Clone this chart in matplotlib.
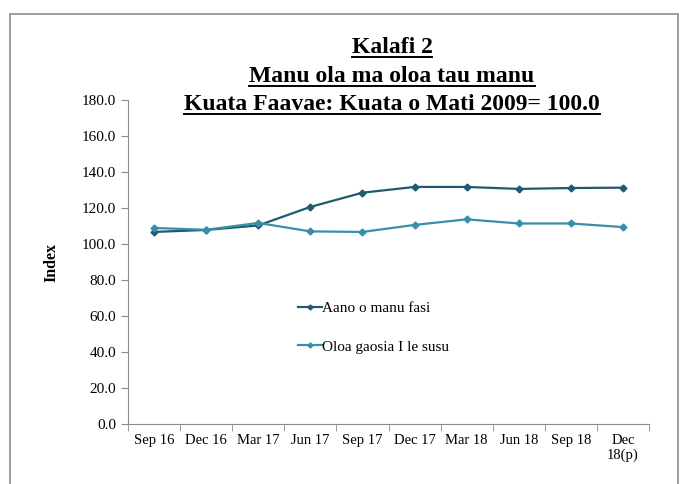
import matplotlib
matplotlib.use('Agg')
import matplotlib.pyplot as plt
from matplotlib.patches import Rectangle
from matplotlib.lines import Line2D

plt.rcParams['font.family'] = ['Liberation Serif', 'DejaVu Serif']

quarters = ['Sep 16', 'Dec 16', 'Mar 17', 'Jun 17', 'Sep 17', 'Dec 17',
            'Mar 18', 'Jun 18', 'Sep 18', 'Dec\n18(p)']
aano = [106.7, 107.8, 110.3, 120.6, 128.5, 131.7, 131.7, 130.6, 131.1, 131.3]
oloa = [108.9, 107.9, 111.7, 107.0, 106.7, 110.6, 113.7, 111.4, 111.4, 109.4]
yticks = [0, 20, 40, 60, 80, 100, 120, 140, 160, 180]
title_lines = ['Kalafi 2', 'Manu ola ma oloa tau manu',
               'Kuata Faavae: Kuata o Mati 2009= 100.0']

fig = plt.figure(figsize=(6.88, 4.84), dpi=100)
# outer chart frame
fig.patches.append(Rectangle((10 / 688, -0.01), 668 / 688, 1 - 14 / 484 + 0.01,
                             transform=fig.transFigure, fill=False,
                             edgecolor='#8c8c8c', linewidth=1.2))

ax = fig.add_axes([128 / 688, 1 - 424 / 484, 521 / 688, 324 / 484])
x = list(range(len(quarters)))
ax.plot(x, aano, color='#1f5a6e', marker='D', markersize=3.5, linewidth=1.6,
        label='Aano o manu fasi')
ax.plot(x, oloa, color='#3a8eaa', marker='D', markersize=3.5, linewidth=1.6,
        label='Oloa gaosia I le susu')

ax.set_xlim(-0.5, len(quarters) - 0.5)
ax.set_ylim(0, 180)
ax.set_yticks(yticks)
ax.set_yticklabels(['%.1f' % v for v in yticks], fontsize=11)
ax.set_xticks(x)
ax.set_xticklabels(quarters, fontsize=10.5)
ax.set_xticks([i - 0.5 for i in range(len(quarters) + 1)], minor=True)
ax.tick_params(axis='x', which='major', length=0, pad=7)
ax.tick_params(axis='x', which='minor', length=5, color='#8c8c8c')
ax.tick_params(axis='y', length=5, color='#8c8c8c')
for s in ['top', 'right']:
    ax.spines[s].set_visible(False)
for s in ['left', 'bottom']:
    ax.spines[s].set_color('#8c8c8c')
ax.set_ylabel('Index', fontsize=11.5, fontweight='bold', labelpad=16)

leg = ax.legend(loc='upper left', bbox_to_anchor=(0.3, 0.42), frameon=False,
                fontsize=11, handlelength=1.6, handletextpad=0.0,
                labelspacing=1.6)
for h in leg.legend_handles:
    h.set_markersize(2.5)
    h.set_linewidth(1.6)

# title with underlines
fig.canvas.draw()
renderer = fig.canvas.get_renderer()
ys = [53, 82, 110]
for line, yp in zip(title_lines, ys):
    t = fig.text(392 / 688, 1 - yp / 484, line, ha='center', va='baseline',
                 fontsize=17, fontweight='bold')
    bb = t.get_window_extent(renderer=renderer)
    uy = 1 - (yp + 3.5) / 484
    fig.add_artist(Line2D([bb.x0 / 688, bb.x1 / 688], [uy, uy],
                          transform=fig.transFigure, color='black', linewidth=1.4))

fig.savefig('out.png', dpi=100)
